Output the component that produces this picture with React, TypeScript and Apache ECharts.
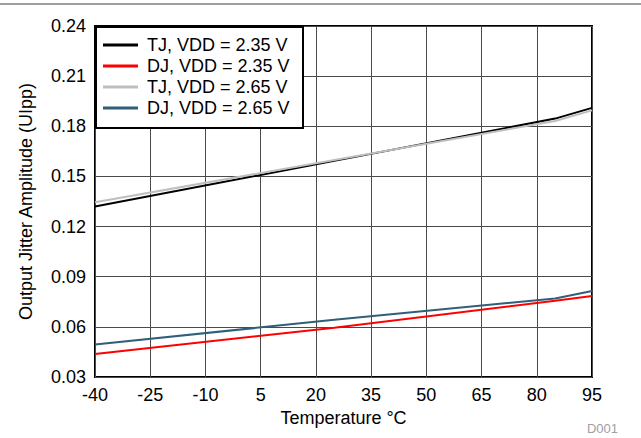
import React, { useEffect, useRef } from "react";
import * as echarts from "echarts";

const temperatures = [-40, 25, 85, 95];
const tj235 = [0.132, 0.1593, 0.1846, 0.191];
const dj235 = [0.0437, 0.0595, 0.0756, 0.0784];
const tj265 = [0.1345, 0.1598, 0.1832, 0.1895];
const dj265 = [0.0495, 0.0642, 0.077, 0.0815];

const seriesNames = [
  "TJ, VDD = 2.35 V",
  "DJ, VDD = 2.35 V",
  "TJ, VDD = 2.65 V",
  "DJ, VDD = 2.65 V",
];
const seriesColors = ["#000000", "#ff0000", "#bfbfbf", "#2f5f7a"];
const seriesValues = [tj235, dj235, tj265, dj265];

const FONT = "'Liberation Sans', Arial, sans-serif";

export default function App() {
  const ref = useRef<HTMLDivElement>(null);
  useEffect(() => {
    if (!ref.current) return;
    const chart = echarts.init(ref.current, null, { renderer: "svg" });
    chart.setOption({
      animation: false,
      backgroundColor: "#ffffff",
      textStyle: { fontFamily: FONT },
      grid: {
        left: 95,
        right: 49,
        top: 26,
        bottom: 61,
        show: true,
        borderColor: "#000",
        borderWidth: 2,
        backgroundColor: "transparent",
      },
      legend: {
        orient: "vertical",
        left: 95,
        top: 26,
        backgroundColor: "transparent",
        borderWidth: 0,
        padding: [10, 16, 12, 8],
        itemWidth: 35,
        itemHeight: 3,
        itemGap: 3,
        icon: "rect",
        z: 10,
        data: seriesNames,
        textStyle: {
          fontFamily: FONT,
          fontSize: 18,
          color: "#000",
          padding: [0, 0, 0, 4],
        },
      },
      xAxis: {
        type: "value",
        min: -40,
        max: 95,
        interval: 15,
        name: "Temperature °C",
        nameLocation: "middle",
        nameGap: 30,
        nameTextStyle: { fontFamily: FONT, fontSize: 18, color: "#000" },
        axisLine: { show: false },
        axisTick: { show: false },
        axisLabel: { fontFamily: FONT, fontSize: 18, color: "#000", margin: 9 },
        splitLine: { show: true, lineStyle: { color: "#4a4a4a", width: 1 } },
      },
      yAxis: {
        type: "value",
        min: 0.03,
        max: 0.24,
        interval: 0.03,
        name: "Output Jitter Amplitude (UIpp)",
        nameLocation: "middle",
        nameGap: 60,
        nameTextStyle: { fontFamily: FONT, fontSize: 18, color: "#000" },
        axisLine: { show: false },
        axisTick: { show: false },
        axisLabel: {
          fontFamily: FONT,
          fontSize: 18,
          color: "#000",
          margin: 9,
          formatter: (v: number) => v.toFixed(2),
        },
        splitLine: { show: true, lineStyle: { color: "#4a4a4a", width: 1 } },
      },
      series: seriesNames.map((name, i) => ({
        name,
        type: "line",
        symbol: "none",
        showSymbol: false,
        color: seriesColors[i],
        itemStyle: { color: seriesColors[i] },
        lineStyle: { color: seriesColors[i], width: 2 },
        data: temperatures.map((t, j) => [t, seriesValues[i][j]]),
      })),
      graphic: [
        {
          type: "line",
          shape: { x1: 0, y1: 4, x2: 641, y2: 4 },
          style: { stroke: "#7f7f7f", lineWidth: 1.5 },
        },
        {
          type: "rect",
          z: 8,
          shape: { x: 96, y: 27, width: 207, height: 101 },
          style: { fill: "#ffffff", stroke: "#000000", lineWidth: 2 },
        },
        {
          type: "text",
          x: 618,
          y: 428,
          style: {
            text: "D001",
            fontFamily: FONT,
            fontSize: 13,
            fill: "#a0a0a0",
            align: "right",
            verticalAlign: "middle",
          },
        },
      ],
    });
    return () => chart.dispose();
  }, []);
  return (
    <div
      ref={ref}
      style={{
        position: "fixed",
        left: 0,
        top: 0,
        width: 641,
        height: 438,
        background: "#fff",
      }}
    />
  );
}
